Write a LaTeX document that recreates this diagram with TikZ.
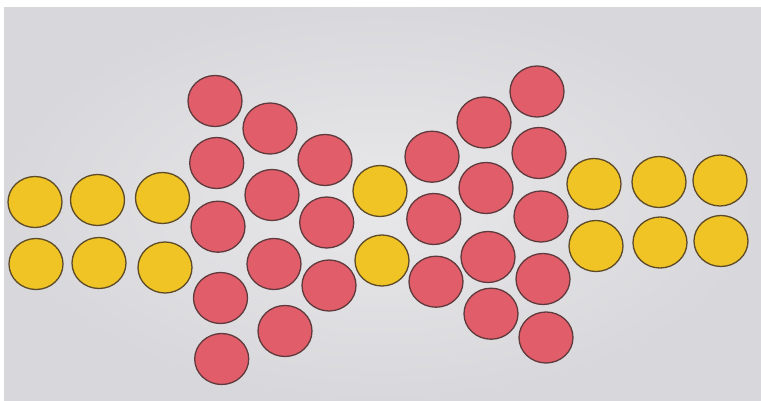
\documentclass[tikz,border=0pt]{standalone}
\usetikzlibrary{shapes.geometric}
\definecolor{bgmid}{HTML}{E8E8EA}
\definecolor{bgedge}{HTML}{D8D8DC}
\definecolor{dotyellow}{HTML}{F0C424}
\definecolor{dotred}{HTML}{E25D6A}
\definecolor{rimred}{HTML}{5E3A3C}
\definecolor{rimyellow}{HTML}{5C4A28}
\tikzset{
  dot/.style={ellipse, minimum width=54pt, minimum height=51pt, inner sep=0pt, line width=1.3pt},
  ydot/.style={dot, draw=rimyellow, fill=dotyellow},
  rdot/.style={dot, draw=rimred, fill=dotred}
}
\begin{document}
\begin{tikzpicture}[x=1pt,y=-1pt]
\useasboundingbox (0,0) rectangle (761,401);
\shade[inner color=bgmid, outer color=bgedge] (0,0) rectangle (761,401);
\fill[white] (0,0) rectangle (761,7);
\fill[white] (0,0) rectangle (4,401);
% left yellow
\node[ydot] (y1) at (35,202) {};
\node[ydot] (y2) at (97.5,200) {};
\node[ydot] (y3) at (162.5,198) {};
\node[ydot] (y4) at (36,264) {};
\node[ydot] (y5) at (99,263) {};
\node[ydot] (y6) at (165,267.5) {};
% red cluster 1
\node[rdot] (r1) at (215,101) {};
\node[rdot] (r2) at (216.7,163) {};
\node[rdot] (r3) at (218,226.7) {};
\node[rdot] (r4) at (220.5,298) {};
\node[rdot] (r5) at (221.7,359) {};
\node[rdot] (r6) at (270,128.5) {};
\node[rdot] (r7) at (272,195) {};
\node[rdot] (r8) at (274,264) {};
\node[rdot] (r9) at (285,331) {};
\node[rdot] (r10) at (325,160) {};
\node[rdot] (r11) at (326.7,222.5) {};
\node[rdot] (r12) at (329,285.5) {};
% middle yellow
\node[ydot] (y7) at (380,191) {};
\node[ydot] (y8) at (382,260.5) {};
% red cluster 2
\node[rdot] (r13) at (432,156.7) {};
\node[rdot] (r14) at (433.8,219) {};
\node[rdot] (r15) at (436,281.7) {};
\node[rdot] (r16) at (484,122.5) {};
\node[rdot] (r17) at (486,188) {};
\node[rdot] (r18) at (488,257) {};
\node[rdot] (r19) at (491,313.7) {};
\node[rdot] (r20) at (537,91.5) {};
\node[rdot] (r21) at (539,153) {};
\node[rdot] (r22) at (541,216.5) {};
\node[rdot] (r23) at (543,279) {};
\node[rdot] (r24) at (546,337.5) {};
% right yellow
\node[ydot] (y9) at (594,184) {};
\node[ydot] (y10) at (659,182) {};
\node[ydot] (y11) at (720,180.5) {};
\node[ydot] (y12) at (596,246) {};
\node[ydot] (y13) at (660,242.5) {};
\node[ydot] (y14) at (721,241) {};
\end{tikzpicture}
\end{document}
